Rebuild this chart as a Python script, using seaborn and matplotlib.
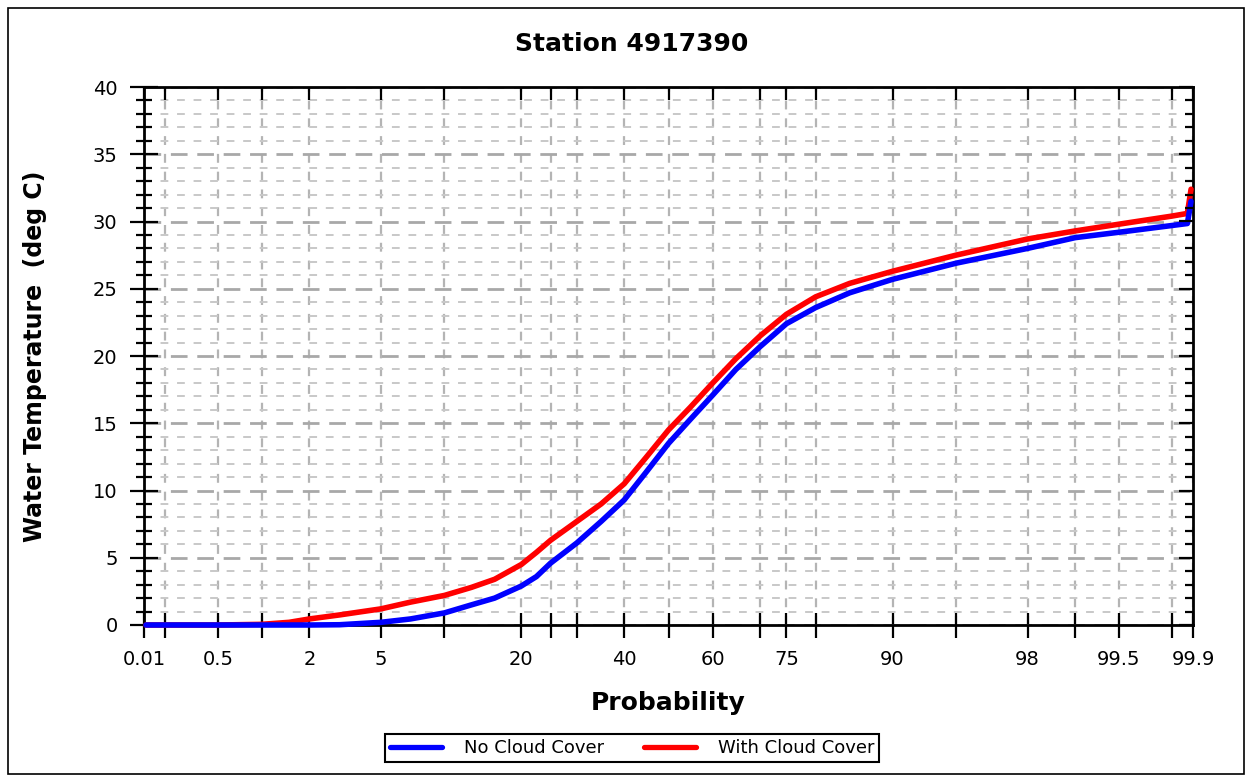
import numpy as np
import pandas as pd
import matplotlib
matplotlib.use("Agg")
import matplotlib.pyplot as plt
from matplotlib.patches import Rectangle
from matplotlib.ticker import MultipleLocator
import seaborn as sns
from statistics import NormalDist

# ---------------- data ----------------
probability = [0.14, 0.5, 1, 1.5, 2, 3, 5, 7, 10, 13, 16, 20, 22.5, 25, 30, 35, 40,
               45, 50, 55, 60, 65, 70, 75, 80, 85, 90, 95, 98, 99, 99.5, 99.8,
               99.85, 99.86]
no_cloud = [0, 0, 0, 0, 0, 0.02, 0.2, 0.45, 0.9, 1.5, 2.0, 2.9, 3.6, 4.6, 6.1, 7.7,
            9.3, 11.4, 13.5, 15.3, 17.1, 19.0, 20.7, 22.4, 23.6, 24.7, 25.7, 26.9,
            28.0, 28.8, 29.2, 29.7, 29.85, 31.5]
with_cloud = [0, 0, 0.05, 0.2, 0.45, 0.75, 1.2, 1.7, 2.2, 2.8, 3.4, 4.5, 5.4, 6.3,
              7.7, 9.0, 10.5, 12.5, 14.5, 16.2, 18.0, 19.8, 21.5, 23.1, 24.4, 25.4,
              26.3, 27.5, 28.7, 29.3, 29.8, 30.4, 30.6, 32.4]
series_names = ["No Cloud Cover", "With Cloud Cover"]
series_colors = ["#0000FF", "#FF0000"]

xtick_values = [0.13499, 0.2, 0.5, 1, 2, 5, 10, 20, 25, 30, 40, 50, 60, 70, 75, 80,
                90, 95, 98, 99, 99.5, 99.8, 99.86501]
xtick_labels = ["0.01", "", "0.5", "", "2", "5", "", "20", "", "", "40", "", "60",
                "", "75", "", "90", "", "98", "", "99.5", "", "99.9"]
title = "Station 4917390"
xlabel = "Probability"
ylabel = "Water Temperature  (deg C)"

# ---------------- probability scale ----------------
_nd = NormalDist()


def _ppf(p):
    if not np.isfinite(p):
        return np.nan
    p = min(max(p / 100.0, 1e-12), 1 - 1e-12)
    return _nd.inv_cdf(p)


def _cdf(z):
    if not np.isfinite(z):
        return np.nan
    return 100.0 * _nd.cdf(z)


def fwd(p):
    return np.vectorize(_ppf, otypes=[float])(np.asarray(p, dtype=float))


def inv(z):
    return np.vectorize(_cdf, otypes=[float])(np.asarray(z, dtype=float))


df = pd.DataFrame({
    "Probability": probability * 2,
    "Temp": no_cloud + with_cloud,
    "Series": [series_names[0]] * len(probability) + [series_names[1]] * len(probability),
})

sns.set_style("white")
plt.rcParams["font.family"] = ["DejaVu Sans"]
for k in ["text.color", "axes.labelcolor", "xtick.color", "ytick.color",
          "axes.edgecolor"]:
    plt.rcParams[k] = "black"

fig = plt.figure(figsize=(12.52, 7.82), dpi=100)
ax = fig.add_axes([144 / 1252, 1 - 625 / 782, (1193 - 144) / 1252, (625 - 87) / 782])
ax.set_xscale("function", functions=(fwd, inv))

# draw red first, blue on top
for name, col in zip(series_names[::-1], series_colors[::-1]):
    sub = df[df["Series"] == name]
    sns.lineplot(data=sub, x="Probability", y="Temp", ax=ax, color=col, lw=4.0,
                 label=name, legend=False, zorder=3, clip_on=False, sort=False)

ax.set_xlim(xtick_values[0], xtick_values[-1])
ax.set_ylim(0, 40)
ax.set_xticks(xtick_values)
ax.set_xticklabels(xtick_labels)
ax.yaxis.set_major_locator(MultipleLocator(5))
ax.yaxis.set_minor_locator(MultipleLocator(1))
ax.xaxis.set_minor_locator(matplotlib.ticker.NullLocator())

# grid
ax.xaxis.grid(True, which="major", ls=(0, (4, 4)), color="#b4b4b4", lw=1.6)
ax.yaxis.grid(True, which="major", ls=(0, (6, 3.5)), color="#a8a8a8", lw=2.0)
ax.yaxis.grid(True, which="minor", ls=(0, (4, 4.5)), color="#c8c8c8", lw=1.4)
ax.set_axisbelow(True)

for s in ax.spines.values():
    s.set_color("black")
    s.set_linewidth(2)

ax.tick_params(axis="x", which="major", direction="inout", length=18, width=1.6,
               colors="black", labelsize=14, pad=9, bottom=True, top=False)
ax.tick_params(axis="y", which="major", direction="inout", length=20, width=1.6,
               colors="black", labelsize=14, pad=9, left=True, right=False)
ax.tick_params(axis="y", which="minor", direction="inout", length=11, width=1.6,
               colors="black", left=True, right=False)

# top ticks (inward)
ax_top = ax.twiny()
ax_top.set_xscale("function", functions=(fwd, inv))
ax_top.set_xlim(ax.get_xlim())
ax_top.set_xticks(xtick_values)
ax_top.set_xticklabels([""] * len(xtick_values))
ax_top.xaxis.set_minor_locator(matplotlib.ticker.NullLocator())
ax_top.tick_params(axis="x", which="major", direction="in", length=9.5, width=1.6,
                   colors="black")
ax_top.grid(False)
for s in ax_top.spines.values():
    s.set_visible(False)

# right ticks (inward)
ax_r = ax.twinx()
ax_r.set_ylim(0, 40)
ax_r.yaxis.set_major_locator(MultipleLocator(5))
ax_r.yaxis.set_minor_locator(MultipleLocator(1))
ax_r.tick_params(axis="y", which="major", direction="in", length=10, width=1.6,
                 colors="black", labelright=False)
ax_r.tick_params(axis="y", which="minor", direction="in", length=6, width=1.6,
                 colors="black")
ax_r.grid(False)
for s in ax_r.spines.values():
    s.set_visible(False)

# labels
ax.set_title(title, fontsize=18, fontweight="bold", color="black",
             x=(632 - 144) / 1049, y=(625 - 52) / 538, va="center")
ax.set_xlabel(xlabel, fontsize=18, fontweight="bold", color="black")
ax.xaxis.set_label_coords(0.5, (625 - 703) / 538)
ax.xaxis.label.set_va("center")
ax.set_ylabel(ylabel, fontsize=17, fontweight="bold", color="black")
ax.yaxis.set_label_coords((35 - 144) / 1049, 0.5)
ax.yaxis.label.set_va("center")

# legend
handles, labels = ax.get_legend_handles_labels()
order = [labels.index(n) for n in series_names]
leg = fig.legend([handles[i] for i in order], [labels[i] for i in order],
                 loc="center", bbox_to_anchor=(632 / 1252, 1 - 748 / 782),
                 ncol=2, frameon=True, fancybox=False, edgecolor="black",
                 framealpha=1, fontsize=13, handlelength=2.9, handletextpad=1.2,
                 columnspacing=2.2, borderpad=0.25, borderaxespad=0)
leg.get_frame().set_linewidth(1.5)
for h in leg.get_lines():
    h.set_linewidth(3.8)
for t in leg.get_texts():
    t.set_color("black")

# figure border
fig.patches.append(Rectangle((8 / 1252, 8 / 782), 1236 / 1252, 766 / 782,
                             transform=fig.transFigure, fill=False,
                             ec="black", lw=1.2))

fig.savefig("out.png", dpi=100)
